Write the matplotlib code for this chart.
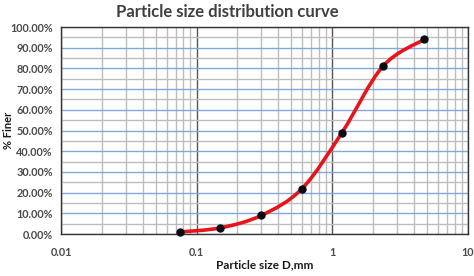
import numpy as np
import matplotlib
matplotlib.use("Agg")
import matplotlib.pyplot as plt
from matplotlib.path import Path
from matplotlib.patches import PathPatch
from matplotlib.ticker import FixedLocator, NullFormatter, FuncFormatter

# sieve sizes (mm) and percent finer
sizes = [0.075, 0.15, 0.3, 0.6, 1.18, 2.36, 4.75]
finer = [1, 3, 9, 22, 49, 81, 94]

x_ticks = [0.01, 0.1, 1, 10]
x_tick_labels = ["0.01", "0.1", "1", "10"]
y_ticks = list(range(0, 101, 10))

plt.rcParams["font.family"] = ["Lato", "DejaVu Sans"]

fig = plt.figure(figsize=(4.74, 2.76), dpi=100)
ax = fig.add_axes([0.1287, 0.152, 0.8583, 0.750])
ax.set_xscale("log")
ax.set_xlim(0.01, 10)
ax.set_ylim(0, 100)

# grid: gray minor lines, blue 10% lines, dark decade lines
ax.xaxis.set_minor_locator(FixedLocator(
    [m * 10.0 ** e for e in range(-2, 1) for m in range(2, 10)]))
ax.xaxis.set_minor_formatter(NullFormatter())
ax.yaxis.set_minor_locator(FixedLocator(np.arange(5, 100, 10)))
ax.grid(which="minor", axis="both", color="#bdbdbd", lw=1.0)
ax.grid(which="major", axis="y", color="#7fa9d9", lw=1.0)
ax.grid(which="major", axis="x", color="#555555", lw=1.0)
ax.set_axisbelow(True)
ax.tick_params(which="both", length=0)

ax.set_xticks(x_ticks)
ax.set_xticklabels(x_tick_labels)
ax.set_yticks(y_ticks)
ax.yaxis.set_major_formatter(FuncFormatter(lambda v, p: f"{v:.2f}%"))
for lab in ax.get_xticklabels() + ax.get_yticklabels():
    lab.set_fontweight("bold")
    lab.set_fontsize(7.8)
    lab.set_color("#4a4a4a")
ax.tick_params(axis="x", pad=9)
ax.tick_params(axis="y", pad=6)

for s in ax.spines.values():
    s.set_color("#333333")
    s.set_linewidth(1.0)

# smooth curve (Excel-style) as cubic bezier in log-x space
lx = np.log10(sizes)
fy = np.array(finer, dtype=float)
verts = [(sizes[0], finer[0])]
codes = [Path.MOVETO]
n = len(lx)
for i in range(n - 1):
    p0 = (lx[max(i - 1, 0)], fy[max(i - 1, 0)])
    p1 = (lx[i], fy[i])
    p2 = (lx[i + 1], fy[i + 1])
    p3 = (lx[min(i + 2, n - 1)], fy[min(i + 2, n - 1)])
    c1 = (p1[0] + (p2[0] - p0[0]) / 6, p1[1] + (p2[1] - p0[1]) / 6)
    c2 = (p2[0] - (p3[0] - p1[0]) / 6, p2[1] - (p3[1] - p1[1]) / 6)
    verts += [(10 ** c1[0], c1[1]), (10 ** c2[0], c2[1]), (10 ** p2[0], p2[1])]
    codes += [Path.CURVE4] * 3
ax.add_patch(PathPatch(Path(verts, codes), fill=False, edgecolor="#e8141b",
                       lw=2.6, capstyle="round", zorder=3))
ax.plot(sizes, finer, "o", color="#0a0a14", ms=5, zorder=4, clip_on=False)

ax.set_xlabel("Particle size D,mm", fontsize=8.5, fontweight="bold",
              color="#1a1a1a", labelpad=1)
ax.set_ylabel("% Finer", fontsize=8, fontweight="bold", color="#1a1a1a")
ax.yaxis.set_label_coords(-0.115, 0.5)
fig.text(0.48, 0.955, "Particle size distribution curve", ha="center",
         va="center", fontsize=12, fontweight="bold", color="#404040")

fig.savefig("out.png", dpi=100)
